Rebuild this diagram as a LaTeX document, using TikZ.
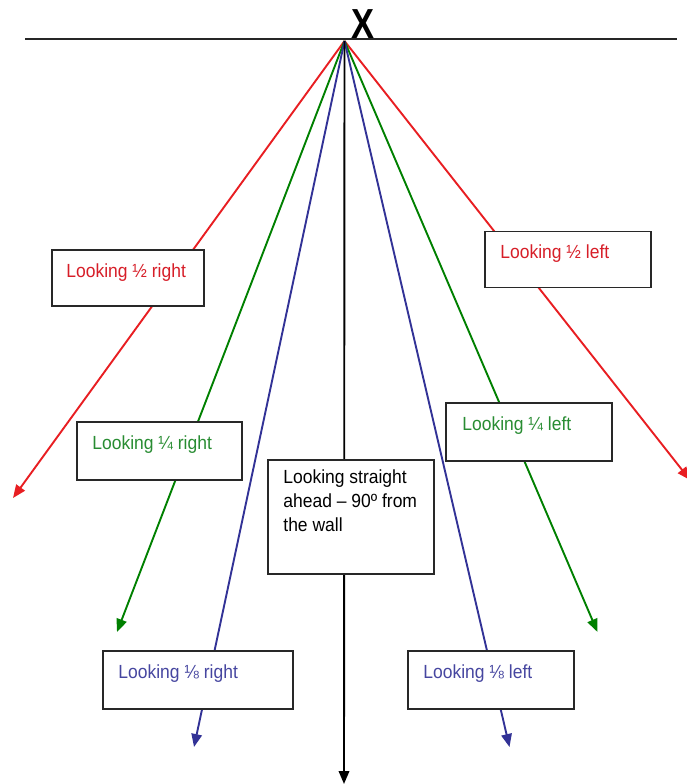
\documentclass[tikz,border=0pt]{standalone}
\usepackage{fontspec}
\usepackage{graphicx}
\setmainfont{Liberation Sans}[FakeStretch=0.92]
\newfontfamily\xfont{Liberation Sans Bold}
\usetikzlibrary{arrows.meta}
\definecolor{lred}{RGB}{232,30,34}
\definecolor{tred}{RGB}{215,30,40}
\definecolor{lgreen}{RGB}{0,128,0}
\definecolor{tgreen}{RGB}{40,140,50}
\definecolor{lblue}{RGB}{50,50,150}
\definecolor{tblue}{RGB}{70,70,160}
\definecolor{boxline}{RGB}{40,40,40}
\tikzset{
  ray/.style={line width=1.9pt,-{Triangle[length=13pt,width=10.5pt]}},
  boxnode/.style={draw=boxline,line width=1.6pt,fill=white,inner sep=0pt,rectangle},
  lab/.style={anchor=base west,inner sep=0pt,font=\fontsize{19}{24}\selectfont},
}
\begin{document}
\begin{tikzpicture}[x=1pt,y=-1pt]
\useasboundingbox (0,0) rectangle (687,784);
% wall
\coordinate (wl) at (25,39.5);
\coordinate (wr) at (677,39.5);
\draw[line width=2pt,black!85] (wl) -- (wr);
\node[anchor=base,inner sep=0pt,font=\fontsize{42}{42}\xfont] (xm) at (363,39) {\scalebox{0.82}[1]{X}};
% apex and ends
\coordinate (apex) at (344.5,41);
\coordinate (eRr) at (13,498);
\coordinate (eRl) at (690,480);
\coordinate (eGr) at (117,632);
\coordinate (eGl) at (597.5,632);
\coordinate (eBr) at (194,747);
\coordinate (eBl) at (509.5,747);
\coordinate (eK) at (344,784);
\draw[ray,lred] (apex) -- (eRr);
\draw[ray,lred] (apex) -- (eRl);
\draw[ray,lgreen] (apex) -- (eGr);
\draw[ray,lgreen] (apex) -- (eGl);
\draw[ray,lblue] (apex) -- (eBr);
\draw[ray,lblue] (apex) -- (eBl);
\draw[ray,black] (apex) -- (eK);
% boxes
\node[boxnode,minimum width=152,minimum height=56] (b1) at (128,278) {};
\node[lab,text=tred] (t1) at ([shift={(15,28)}]b1.north west) {Looking ½ right};
\node[boxnode,minimum width=166,minimum height=56] (b2) at (568,259.5) {};
\node[lab,text=tred] (t2) at ([shift={(16,28)}]b2.north west) {Looking ½ left};
\node[boxnode,minimum width=165,minimum height=58] (b3) at (159.5,451) {};
\node[lab,text=tgreen] (t3) at ([shift={(16,28)}]b3.north west) {Looking ¼ right};
\node[boxnode,minimum width=166,minimum height=58] (b4) at (529,432) {};
\node[lab,text=tgreen] (t4) at ([shift={(17,28)}]b4.north west) {Looking ¼ left};
\node[boxnode,minimum width=166,minimum height=114] (b5) at (351,517) {};
\node[anchor=north west,inner sep=0pt,align=left,font=\fontsize{19}{24}\selectfont] (t5) at ([shift={(16,10)}]b5.north west) {Looking straight\\ahead – 90º from\\the wall};
\node[boxnode,minimum width=190,minimum height=58] (b6) at (198,680) {};
\node[lab,text=tblue] (t6) at ([shift={(16,28)}]b6.north west) {Looking ⅛ right};
\node[boxnode,minimum width=166,minimum height=58] (b7) at (491,680) {};
\node[lab,text=tblue] (t7) at ([shift={(16,28)}]b7.north west) {Looking ⅛ left};
\end{tikzpicture}
\end{document}
